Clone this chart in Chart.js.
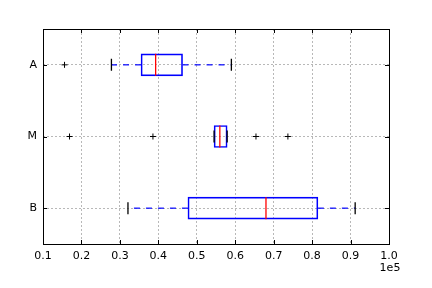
<!DOCTYPE html>
<html>
<head>
<meta charset="utf-8">
<script src="https://cdn.jsdelivr.net/npm/chart.js@4/dist/chart.umd.min.js"></script>
<style>
html,body{margin:0;padding:0;background:#fff;}
#wrap{width:432px;height:288px;}
</style>
</head>
<body>
<div id="wrap"><canvas id="c" width="432" height="288"></canvas></div>
<script>
// ---- data (values in raw units; axis shows them scaled by 1e5) ----
const categories  = ['A', 'M', 'B'];
const q1          = [35500, 54500, 47700];
const medians     = [39300, 56000, 68000];
const q3          = [46300, 57900, 81500];
const whiskerLow  = [27800, 54500, 32100];
const whiskerHigh = [59000, 57900, 91200];
const outliersA   = [15600];
const outliersM   = [16900, 38600, 65400, 73700];
const outliersB   = [];
const xTickValues = [10000, 20000, 30000, 40000, 50000, 60000, 70000, 80000, 90000, 100000];

const outlierLists = [outliersA, outliersM, outliersB];

Chart.defaults.font.family = 'DejaVu Sans';
Chart.defaults.font.size = 11;
Chart.defaults.color = '#000';

const datasets = [];

// boxes
datasets.push({
  type: 'bar',
  indexAxis: 'y',
  data: categories.map((c, i) => ({ y: c, x: [q1[i], q3[i]] })),
  backgroundColor: 'rgba(0,0,0,0)',
  borderColor: '#0000ff',
  borderWidth: 1,
  borderSkipped: false,
  barThickness: 22,
  order: 3
});

// whiskers (from box edge outward)
categories.forEach((c, i) => {
  [[q1[i], whiskerLow[i]], [q3[i], whiskerHigh[i]]].forEach(([a, b]) => {
    datasets.push({
      type: 'scatter',
      showLine: true,
      data: [{ x: a, y: c }, { x: b, y: c }],
      borderColor: '#0000ff',
      borderWidth: 1.2,
      borderDash: [6, 6],
      pointRadius: 0,
      order: 4
    });
  });
});

// caps
datasets.push({
  type: 'scatter',
  data: categories.flatMap((c, i) => [{ x: whiskerLow[i], y: c }, { x: whiskerHigh[i], y: c }]),
  pointStyle: 'line',
  rotation: 90,
  pointRadius: 6,
  borderColor: '#000',
  pointBorderColor: '#000',
  pointBorderWidth: 1.3,
  order: 2
});

// medians
datasets.push({
  type: 'scatter',
  data: categories.map((c, i) => ({ x: medians[i], y: c })),
  pointStyle: 'line',
  rotation: 90,
  pointRadius: 11,
  pointBorderColor: '#ff0000',
  pointBorderWidth: 1.3,
  order: 1
});

// outliers
datasets.push({
  type: 'scatter',
  data: categories.flatMap((c, i) => outlierLists[i].map(v => ({ x: v, y: c }))),
  pointStyle: 'cross',
  pointRadius: 3,
  pointBorderColor: '#000',
  pointBorderWidth: 1,
  order: 0
});

const framePlugin = {
  id: 'frame',
  afterDraw(chart) {
    const ctx = chart.ctx;
    const a = chart.chartArea;
    const xs = chart.scales.x, ys = chart.scales.y;
    ctx.save();
    ctx.strokeStyle = '#000';
    ctx.lineWidth = 1;
    ctx.setLineDash([]);
    ctx.beginPath();
    xs.ticks.forEach(t => {
      const px = Math.round(xs.getPixelForValue(t.value)) + 0.5;
      ctx.moveTo(px, a.top); ctx.lineTo(px, a.top + 4);
      ctx.moveTo(px, a.bottom); ctx.lineTo(px, a.bottom - 4);
    });
    ys.ticks.forEach((t, i) => {
      const py = Math.round(ys.getPixelForTick(i)) + 0.5;
      ctx.moveTo(a.left, py); ctx.lineTo(a.left + 4, py);
      ctx.moveTo(a.right, py); ctx.lineTo(a.right - 4, py);
    });
    ctx.stroke();
    ctx.strokeRect(Math.round(a.left) + 0.5, Math.round(a.top) + 0.5,
                   Math.round(a.right) - Math.round(a.left), Math.round(a.bottom) - Math.round(a.top));
    ctx.fillStyle = '#000';
    ctx.font = '11px "DejaVu Sans"';
    ctx.textAlign = 'center';
    ctx.textBaseline = 'middle';
    ctx.fillText('1e5', a.right + 1, 268);
    ctx.restore();
  }
};

new Chart(document.getElementById('c'), {
  type: 'bar',
  data: { labels: categories, datasets },
  options: {
    responsive: false,
    animation: false,
    events: [],
    layout: { padding: { top: 29, right: 43, left: 0, bottom: 0 } },
    plugins: { legend: { display: false }, tooltip: { enabled: false } },
    scales: {
      x: {
        type: 'linear',
        min: 10000,
        max: 100000,
        offset: false,
        afterBuildTicks: s => { s.ticks = xTickValues.map(v => ({ value: v })); },
        afterFit: s => { s.height = 44; },
        ticks: {
          padding: 6,
          callback: v => (v / 1e5).toFixed(1),
          font: { size: 11 },
          color: '#000',
          maxRotation: 0,
          autoSkip: false
        },
        grid: { color: '#b8b8b8', lineWidth: 1, drawTicks: false, offset: false },
        border: { display: false, dash: [2, 2] }
      },
      y: {
        type: 'category',
        labels: categories,
        offset: true,
        afterFit: s => { s.width = 43; },
        ticks: { padding: 6, font: { size: 11 }, color: '#000' },
        grid: { color: '#b8b8b8', lineWidth: 1, drawTicks: false, offset: false },
        border: { display: false, dash: [2, 2] }
      }
    }
  },
  plugins: [framePlugin]
});
</script>
</body>
</html>
